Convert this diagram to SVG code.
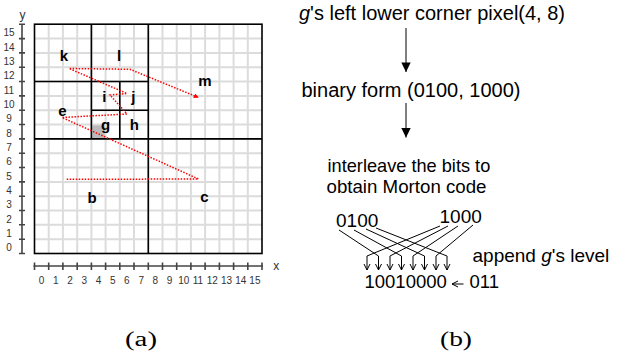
<svg xmlns="http://www.w3.org/2000/svg" width="620" height="356" viewBox="0 0 620 356">
<style>
.lg{stroke:#dcdcdc;stroke-width:2;fill:none}
.bd{stroke:#000;stroke-width:1.6;fill:none}
.ax{stroke:#444;stroke-width:1.6;fill:none}
.al{font-family:"Liberation Sans",Arial,sans-serif;font-size:10px;fill:#333;text-anchor:middle}
.xy{font-family:"Liberation Sans",Arial,sans-serif;font-size:12px;fill:#333;text-anchor:middle}
.nl{font-family:"Liberation Sans",Arial,sans-serif;font-size:15px;font-weight:bold;fill:#000;text-anchor:middle}
.z{stroke:#f00;stroke-width:1.5;stroke-dasharray:1.5 1.5;fill:none}
.t{font-family:"Liberation Sans",Arial,sans-serif;fill:#000}
.cap{font-family:"Liberation Serif","Times New Roman",serif;font-size:20px;fill:#000}
.ln{stroke:#000;stroke-width:1;fill:none}
</style>
<defs>
<marker id="tri" markerUnits="userSpaceOnUse" viewBox="0 0 10 10" refX="10" refY="5" markerWidth="10" markerHeight="9.4" orient="auto">
<path d="M0,0 L10,5 L0,10 z" fill="#000"/>
</marker>
<marker id="vee" markerUnits="userSpaceOnUse" viewBox="0 0 8 8" refX="7" refY="4" markerWidth="8" markerHeight="8" orient="auto">
<path d="M1,1 L7,4 L1,7" stroke="#000" stroke-width="1" fill="none"/>
</marker>
<marker id="rd" markerUnits="userSpaceOnUse" viewBox="0 0 6 6" refX="5" refY="3" markerWidth="5" markerHeight="5" orient="auto">
<path d="M0,0 L6,3 L0,6 z" fill="#f00"/>
</marker>
</defs>

<g id="grid">
<rect x="91.4" y="124.5" width="14.2" height="14.4" fill="#bbb"/>
<path class="lg" d="M48.7 24.2V253.5M62.9 24.2V253.5M77.2 24.2V253.5M91.4 24.2V253.5M105.6 24.2V253.5M119.8 24.2V253.5M134 24.2V253.5M148.3 24.2V253.5M162.5 24.2V253.5M176.7 24.2V253.5M190.9 24.2V253.5M205.1 24.2V253.5M219.4 24.2V253.5M233.6 24.2V253.5M247.8 24.2V253.5"/>
<path class="lg" d="M34.5 239.2H262M34.5 224.8H262M34.5 210.5H262M34.5 196.2H262M34.5 181.9H262M34.5 167.5H262M34.5 153.2H262M34.5 138.9H262M34.5 124.5H262M34.5 110.2H262M34.5 95.9H262M34.5 81.5H262M34.5 67.2H262M34.5 52.9H262M34.5 38.6H262"/>
<rect class="bd" x="34.5" y="24.2" width="227.5" height="229.3"/>
<path class="bd" d="M91.4 24.2V138.9M148.3 24.2V253.5M34.5 81.5H148.3M34.5 138.9H262M91.4 110.2H148.3M119.8 81.5V138.9"/>
</g>

<g id="axes">
<path class="ax" d="M22 24.2V253.5"/>
<path class="ax" d="M19 253.5H25M19 239.2H25M19 224.8H25M19 210.5H25M19 196.2H25M19 181.9H25M19 167.5H25M19 153.2H25M19 138.9H25M19 124.5H25M19 110.2H25M19 95.9H25M19 81.5H25M19 67.2H25M19 52.9H25M19 38.6H25M19 24.2H25"/>
<path class="ax" d="M33.5 266H263"/>
<path class="ax" d="M34.5 262.5V270M48.7 262.5V270M62.9 262.5V270M77.2 262.5V270M91.4 262.5V270M105.6 262.5V270M119.8 262.5V270M134 262.5V270M148.3 262.5V270M162.5 262.5V270M176.7 262.5V270M190.9 262.5V270M205.1 262.5V270M219.4 262.5V270M233.6 262.5V270M247.8 262.5V270M262 262.5V270"/>
<text class="xy" x="22.5" y="18.5">y</text>
<text class="xy" x="276.3" y="270">x</text>
<g class="al">
<text x="9" y="251.3">0</text><text x="9" y="237">1</text><text x="9" y="222.7">2</text><text x="9" y="208.3">3</text>
<text x="9" y="194">4</text><text x="9" y="179.7">5</text><text x="9" y="165.4">6</text><text x="9" y="151">7</text>
<text x="9" y="136.7">8</text><text x="9" y="122.4">9</text><text x="9" y="108">10</text><text x="9" y="93.7">11</text>
<text x="9" y="79.4">12</text><text x="9" y="65">13</text><text x="9" y="50.7">14</text><text x="9" y="36.4">15</text>
<text x="41.6" y="284.3">0</text><text x="55.8" y="284.3">1</text><text x="70" y="284.3">2</text><text x="84.3" y="284.3">3</text>
<text x="98.5" y="284.3">4</text><text x="112.7" y="284.3">5</text><text x="126.9" y="284.3">6</text><text x="141.2" y="284.3">7</text>
<text x="155.4" y="284.3">8</text><text x="169.6" y="284.3">9</text><text x="183.8" y="284.3">10</text><text x="198" y="284.3">11</text>
<text x="212.2" y="284.3">12</text><text x="226.5" y="284.3">13</text><text x="240.7" y="284.3">14</text><text x="254.9" y="284.3">15</text>
</g>
</g>

<g id="node-k"><text class="nl" x="64" y="60.5">k</text></g>
<g id="node-l"><text class="nl" x="119" y="61">l</text></g>
<g id="node-m"><text class="nl" x="205" y="86">m</text></g>
<g id="node-i"><text class="nl" x="104.3" y="101.5">i</text></g>
<g id="node-j"><text class="nl" x="133.3" y="101.5">j</text></g>
<g id="node-e"><text class="nl" x="62.4" y="116">e</text></g>
<g id="node-g"><text class="nl" x="105.5" y="130">g</text></g>
<g id="node-h"><text class="nl" x="134.3" y="130">h</text></g>
<g id="node-b"><text class="nl" x="92" y="202.5">b</text></g>
<g id="node-c"><text class="nl" x="204.3" y="201.7">c</text></g>

<g id="step-pixel"><text class="t" font-size="20" x="299" y="20" textLength="266" lengthAdjust="spacing"><tspan font-style="italic">g</tspan>'s left lower corner pixel(4, 8)</text></g>
<g id="step-binary"><text class="t" font-size="20" x="301.5" y="96.5">binary form (0100, 1000)</text></g>
<g id="step-interleave">
<text class="t" font-size="18.2" x="327.5" y="171.5">interleave the bits to</text>
<text class="t" font-size="18.7" x="326.5" y="193">obtain Morton code</text>
</g>
<g id="bits-x"><text class="t" font-size="19" x="336" y="226.5">0100</text></g>
<g id="bits-y"><text class="t" font-size="19" x="439.5" y="223.3">1000</text></g>
<g id="append-label"><text class="t" font-size="19" x="472.5" y="261.5">append <tspan font-style="italic">g</tspan>'s level</text></g>
<g id="morton-code"><text class="t" font-size="18.5" x="364.5" y="288">10010000</text></g>
<g id="level-bits"><text class="t" font-size="18.5" x="469.5" y="288">011</text></g>

<g id="captions">
<text class="cap" x="125" y="346" textLength="32" lengthAdjust="spacingAndGlyphs">(a)</text>
<text class="cap" x="440" y="346" textLength="32" lengthAdjust="spacingAndGlyphs">(b)</text>
</g>

<g id="connectors">
<polyline class="z" marker-end="url(#rd)" points="66.7,179.3 198.5,179 62,117.5 127,114 110,95 127,93.5 69,68.5 130,69.3 198,97.3"/>
<line class="ln" x1="406" y1="28" x2="406" y2="72" marker-end="url(#tri)"/>
<line class="ln" x1="406" y1="103" x2="406" y2="137.5" marker-end="url(#tri)"/>
<polyline class="ln" marker-end="url(#vee)" points="440,226 367,256 367,270"/>
<polyline class="ln" marker-end="url(#vee)" points="339,230 378.5,256 378.5,270"/>
<polyline class="ln" marker-end="url(#vee)" points="448,226 390,256 390,270"/>
<polyline class="ln" marker-end="url(#vee)" points="354,230 401.5,256 401.5,270"/>
<polyline class="ln" marker-end="url(#vee)" points="458,226 413,256 413,270"/>
<polyline class="ln" marker-end="url(#vee)" points="366,229 424.5,256 424.5,270"/>
<polyline class="ln" marker-end="url(#vee)" points="473,225 436,256 436,270"/>
<polyline class="ln" marker-end="url(#vee)" points="376,228 447,256 447,270"/>
<line class="ln" x1="463.5" y1="284" x2="452" y2="284" marker-end="url(#vee)"/>
</g>
</svg>
